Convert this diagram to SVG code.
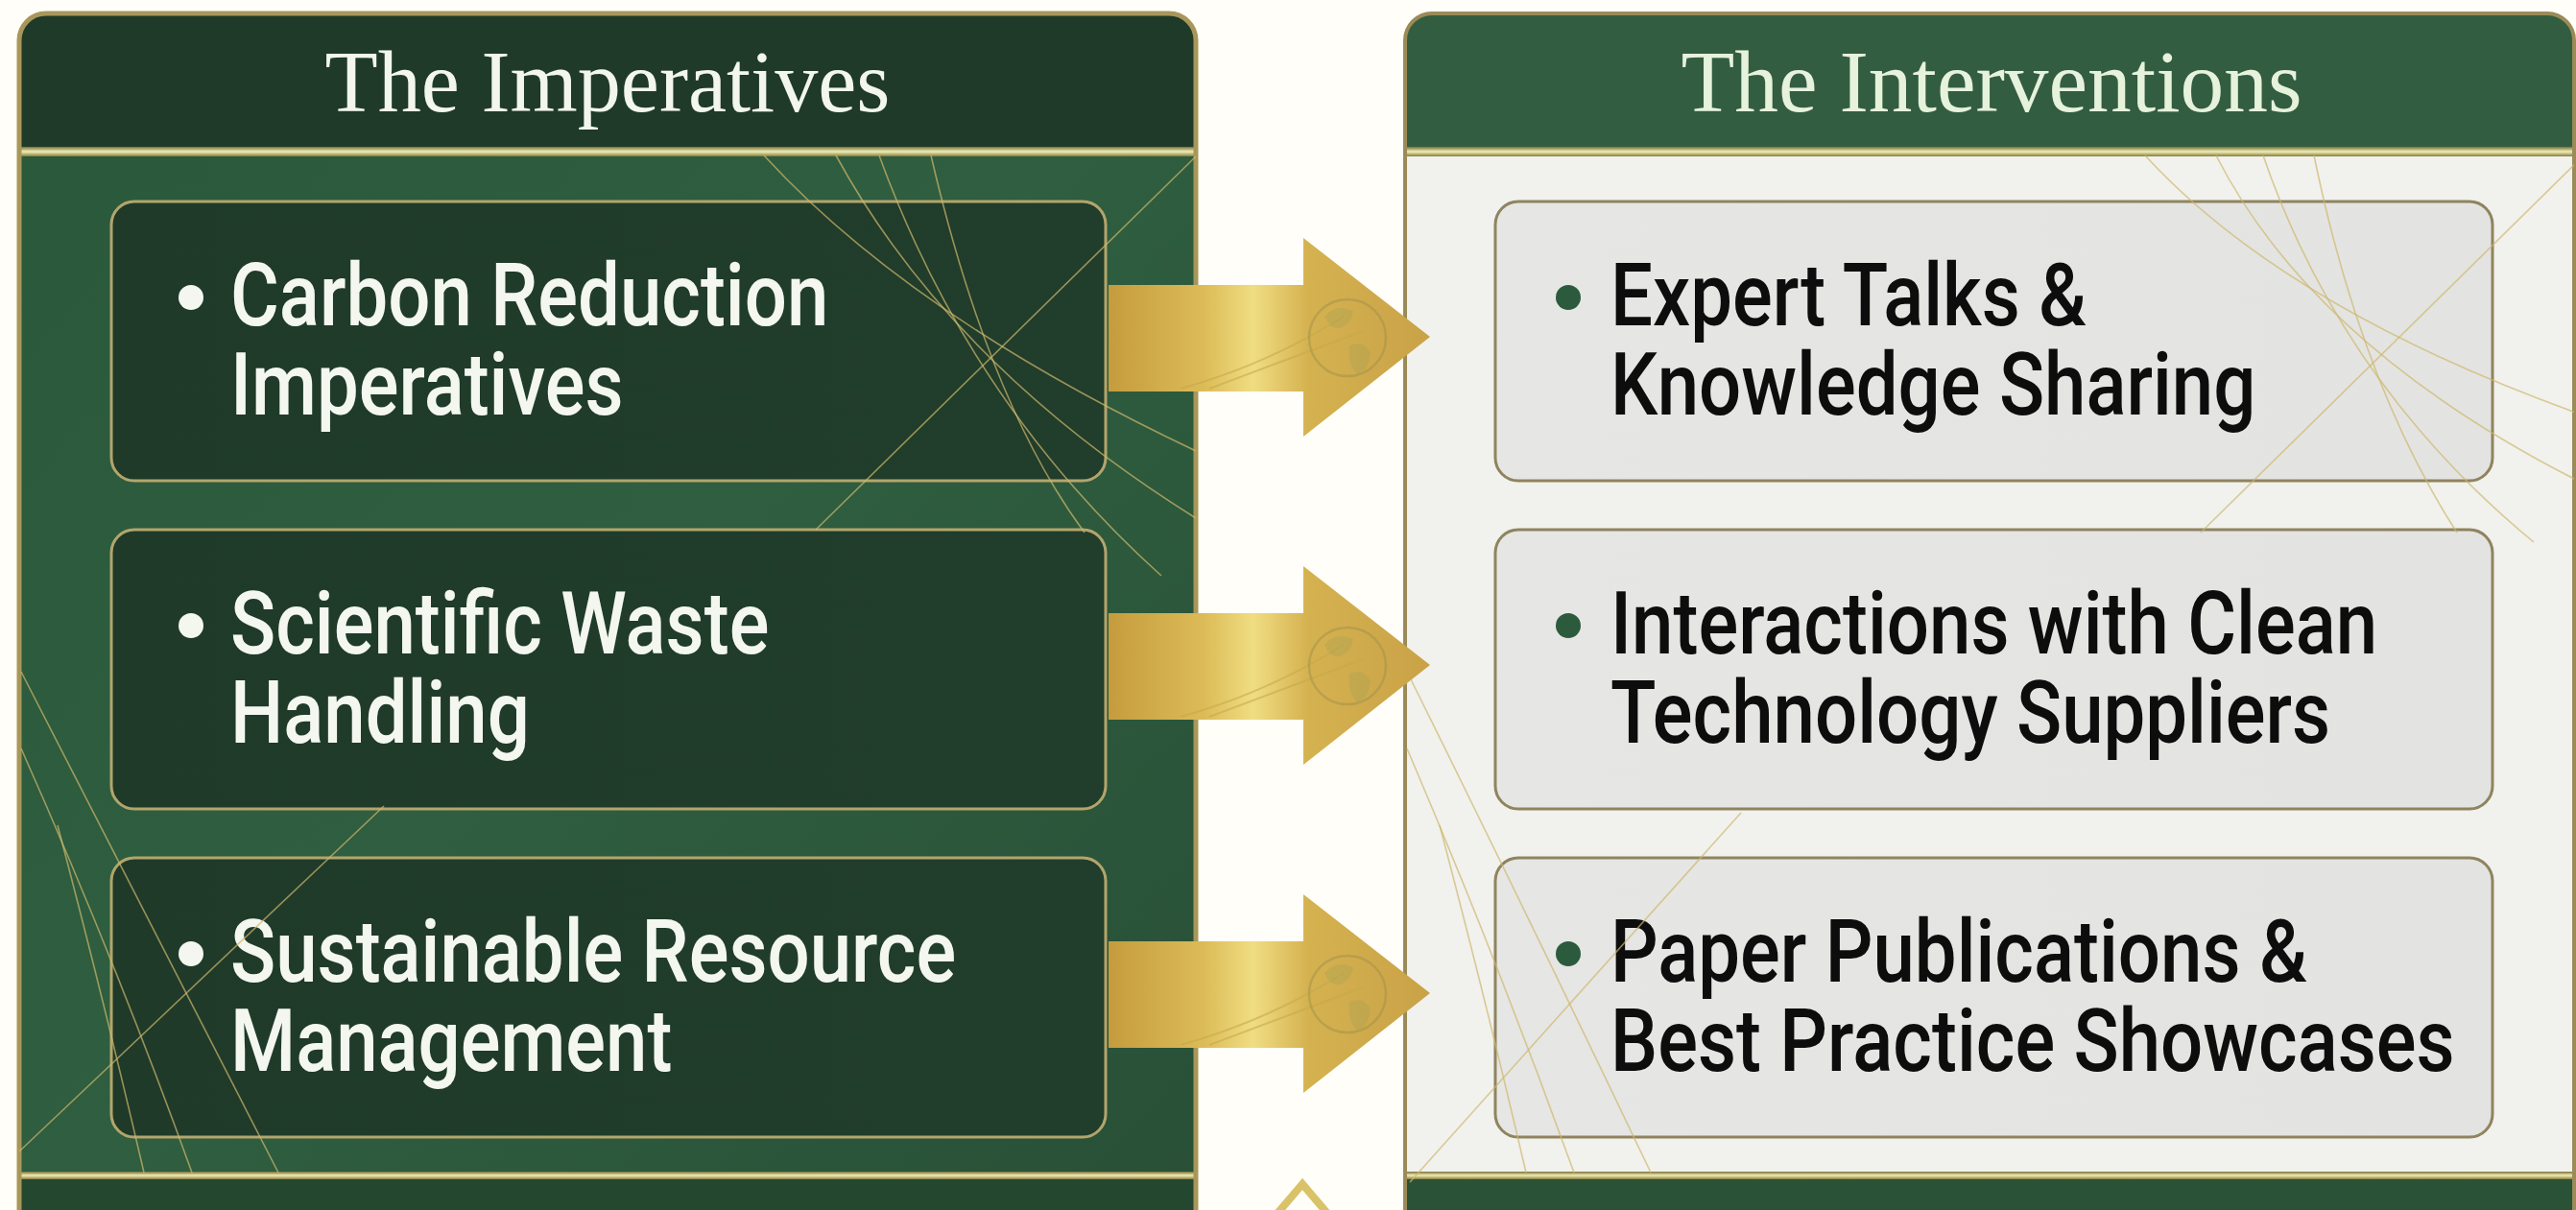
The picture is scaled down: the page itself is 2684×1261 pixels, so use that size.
<svg xmlns="http://www.w3.org/2000/svg" width="2684" height="1261" viewBox="0 0 2684 1261">
  <style>
    .title { font-family: "Liberation Serif", "DejaVu Serif", serif; font-size: 92px; text-anchor: middle; }
    .lt { font-family: Roboto, "Liberation Sans", sans-serif; font-weight: 500; font-size: 90px; fill: #f4f7f0; }
    .rt { font-family: Roboto, "Liberation Sans", sans-serif; font-weight: 500; font-size: 90px; fill: #0d0d0d; }
    .lbox { fill: url(#lboxFill); stroke: #b3a56c; stroke-width: 3; }
    .rbox { fill: url(#rboxFill); stroke: #8f845e; stroke-width: 3; }
    .deco { fill: none; stroke: #cdb86c; stroke-width: 1.6; opacity: 0.7; }
    .arrow { fill: url(#arrowFill); }
    .globe { fill: none; stroke: #9c8f4a; stroke-width: 2.5; opacity: 0.45; }
    .land { fill: #8f9a55; opacity: 0.22; }
    .swoosh { fill: none; stroke: #c7a94c; stroke-width: 2; opacity: 0.6; }
  </style>
  <defs>
    <linearGradient id="lbodyFill" x1="0" y1="0" x2="1" y2="1">
      <stop offset="0" stop-color="#2a583a"/>
      <stop offset="0.5" stop-color="#2f5e40"/>
      <stop offset="1" stop-color="#284f36"/>
    </linearGradient>
    <linearGradient id="lboxFill" x1="0" y1="0" x2="1" y2="0">
      <stop offset="0" stop-color="#1f3a29"/>
      <stop offset="1" stop-color="#213d2b"/>
    </linearGradient>
    <linearGradient id="rboxFill" x1="0" y1="0" x2="1" y2="0">
      <stop offset="0" stop-color="#e6e6e4"/>
      <stop offset="1" stop-color="#e3e3e1"/>
    </linearGradient>
    <linearGradient id="goldBar" x1="0" y1="0" x2="0" y2="1">
      <stop offset="0" stop-color="#7d6f35"/>
      <stop offset="0.5" stop-color="#eef0b8"/>
      <stop offset="1" stop-color="#8a7a3c"/>
    </linearGradient>
    <linearGradient id="arrowFill" x1="1155" y1="0" x2="1490" y2="0" gradientUnits="userSpaceOnUse">
      <stop offset="0" stop-color="#c59c3d"/>
      <stop offset="0.3" stop-color="#dcbc58"/>
      <stop offset="0.45" stop-color="#f0dd82"/>
      <stop offset="0.62" stop-color="#d5b250"/>
      <stop offset="1" stop-color="#c9a247"/>
    </linearGradient>
    <clipPath id="clipL"><rect x="20" y="14" width="1226" height="1300" rx="28"/></clipPath>
    <clipPath id="clipR"><rect x="1464" y="14" width="1218" height="1300" rx="28"/></clipPath>
  </defs>

  <rect x="0" y="0" width="2684" height="1261" fill="#fffef8"/>

  <!-- Left panel -->
  <g id="panel-imperatives">
    <g clip-path="url(#clipL)">
      <rect x="20" y="14" width="1226" height="1300" fill="url(#lbodyFill)"/>
      <rect x="20" y="14" width="1226" height="142" fill="#1f3a28"/>
      <rect x="20" y="153" width="1226" height="10" fill="url(#goldBar)"/>
      <rect x="20" y="1228" width="1226" height="60" fill="#24472f"/>
      <rect x="20" y="1221" width="1226" height="8" fill="url(#goldBar)"/>
    </g>
    <rect x="20" y="14" width="1226" height="1300" rx="28" fill="none" stroke="#a8975a" stroke-width="5"/>
    <text class="title" x="633" y="116" fill="#f2f6ec" textLength="589" lengthAdjust="spacingAndGlyphs">The Imperatives</text>
  </g>

  <!-- Right panel -->
  <g id="panel-interventions">
    <g clip-path="url(#clipR)">
      <rect x="1464" y="14" width="1218" height="1300" fill="#f1f1ee"/>
      <rect x="1464" y="14" width="1218" height="142" fill="#335d40"/>
      <rect x="1464" y="153" width="1218" height="10" fill="url(#goldBar)"/>
      <rect x="1464" y="1228" width="1218" height="60" fill="#2a5236"/>
      <rect x="1464" y="1221" width="1218" height="8" fill="url(#goldBar)"/>
    </g>
    <rect x="1464" y="14" width="1218" height="1300" rx="28" fill="none" stroke="#9a8b58" stroke-width="4"/>
    <text class="title" x="2075" y="116" fill="#e6f2dc" textLength="647" lengthAdjust="spacingAndGlyphs">The Interventions</text>
  </g>

  <!-- Left nodes -->
  <g id="node-carbon">
    <rect class="lbox" x="116" y="210" width="1036" height="291" rx="24"/>
    <circle cx="199" cy="310" r="13" fill="#f4f7f0"/>
    <g transform="translate(240,0) scale(0.866,1)">
      <text class="lt"><tspan x="0" y="339">Carbon Reduction</tspan><tspan x="0" y="432">Imperatives</tspan></text>
    </g>
  </g>
  <g id="node-waste">
    <rect class="lbox" x="116" y="552" width="1036" height="291" rx="24"/>
    <circle cx="199" cy="652" r="13" fill="#f4f7f0"/>
    <g transform="translate(240,0) scale(0.866,1)">
      <text class="lt"><tspan x="0" y="681">Scientific Waste</tspan><tspan x="0" y="774">Handling</tspan></text>
    </g>
  </g>
  <g id="node-resource">
    <rect class="lbox" x="116" y="894" width="1036" height="291" rx="24"/>
    <circle cx="199" cy="994" r="13" fill="#f4f7f0"/>
    <g transform="translate(240,0) scale(0.866,1)">
      <text class="lt"><tspan x="0" y="1023">Sustainable Resource</tspan><tspan x="0" y="1116">Management</tspan></text>
    </g>
  </g>

  <!-- Right nodes -->
  <g id="node-expert">
    <rect class="rbox" x="1558" y="210" width="1039" height="291" rx="24"/>
    <circle cx="1634" cy="310" r="13" fill="#2c5a3c"/>
    <g transform="translate(1678,0) scale(0.866,1)">
      <text class="rt"><tspan x="0" y="339">Expert Talks &amp;</tspan><tspan x="0" y="432">Knowledge Sharing</tspan></text>
    </g>
  </g>
  <g id="node-interactions">
    <rect class="rbox" x="1558" y="552" width="1039" height="291" rx="24"/>
    <circle cx="1634" cy="652" r="13" fill="#2c5a3c"/>
    <g transform="translate(1678,0) scale(0.866,1)">
      <text class="rt"><tspan x="0" y="681">Interactions with Clean</tspan><tspan x="0" y="774">Technology Suppliers</tspan></text>
    </g>
  </g>
  <g id="node-publications">
    <rect class="rbox" x="1558" y="894" width="1039" height="291" rx="24"/>
    <circle cx="1634" cy="994" r="13" fill="#2c5a3c"/>
    <g transform="translate(1678,0) scale(0.866,1)">
      <text class="rt"><tspan x="0" y="1023">Paper Publications &amp;</tspan><tspan x="0" y="1116">Best Practice Showcases</tspan></text>
    </g>
  </g>

  <!-- Decorative gold lines -->
  <g id="decor-left" clip-path="url(#clipL)">
    <path class="deco" d="M1246,163 L850,552"/>
    <path class="deco" d="M796,162 Q950,330 1246,470"/>
    <path class="deco" d="M871,162 Q990,380 1246,540"/>
    <path class="deco" d="M916,162 Q1010,420 1210,600"/>
    <path class="deco" d="M970,162 Q1030,420 1130,555"/>
    <path class="deco" d="M400,840 L20,1200"/>
    <path class="deco" d="M22,700 Q150,950 290,1222"/>
    <path class="deco" d="M22,780 Q120,1000 200,1222"/>
    <path class="deco" d="M60,860 Q110,1050 150,1222"/>
  </g>
  <g id="decor-right" clip-path="url(#clipR)">
    <path class="deco" d="M2684,170 L2293,555"/>
    <path class="deco" d="M2235,162 Q2380,320 2684,430"/>
    <path class="deco" d="M2309,162 Q2410,360 2684,500"/>
    <path class="deco" d="M2358,162 Q2440,400 2640,565"/>
    <path class="deco" d="M2411,162 Q2460,400 2560,555"/>
    <path class="deco" d="M1814,847 L1469,1232"/>
    <path class="deco" d="M1466,700 Q1590,950 1720,1222"/>
    <path class="deco" d="M1466,780 Q1560,1000 1640,1222"/>
    <path class="deco" d="M1500,860 Q1550,1050 1590,1222"/>
  </g>

  <!-- Connectors -->
  <g id="connectors">
    <g id="arrow-1">
      <polygon class="arrow" points="1155,297 1358,297 1358,248 1490,351 1358,455 1358,408 1155,408"/>
      <path class="swoosh" d="M1230,405 Q1320,380 1400,330"/>
      <path class="swoosh" d="M1260,405 Q1340,375 1420,345"/>
      <circle class="globe" cx="1404" cy="352" r="40"/>
      <path class="land" d="M1380,330 q12,-14 30,-6 q-2,14 -14,18 q-10,2 -16,-12 z M1406,360 q16,-6 22,8 q-2,18 -14,22 q-10,-10 -8,-30 z"/>
    </g>
    <g id="arrow-2">
      <polygon class="arrow" points="1155,639 1358,639 1358,590 1490,693 1358,797 1358,750 1155,750"/>
      <path class="swoosh" d="M1230,747 Q1320,722 1400,672"/>
      <path class="swoosh" d="M1260,747 Q1340,717 1420,687"/>
      <circle class="globe" cx="1404" cy="694" r="40"/>
      <path class="land" d="M1380,672 q12,-14 30,-6 q-2,14 -14,18 q-10,2 -16,-12 z M1406,702 q16,-6 22,8 q-2,18 -14,22 q-10,-10 -8,-30 z"/>
    </g>
    <g id="arrow-3">
      <polygon class="arrow" points="1155,981 1358,981 1358,932 1490,1035 1358,1139 1358,1092 1155,1092"/>
      <path class="swoosh" d="M1230,1089 Q1320,1064 1400,1014"/>
      <path class="swoosh" d="M1260,1089 Q1340,1059 1420,1029"/>
      <circle class="globe" cx="1404" cy="1036" r="40"/>
      <path class="land" d="M1380,1014 q12,-14 30,-6 q-2,14 -14,18 q-10,2 -16,-12 z M1406,1044 q16,-6 22,8 q-2,18 -14,22 q-10,-10 -8,-30 z"/>
    </g>
  </g>

  <!-- Bottom gold chevron -->
  <polygon points="1357,1234 1322,1275 1392,1275" fill="#fffef8" stroke="#d9c268" stroke-width="8" stroke-linejoin="miter"/>
</svg>
